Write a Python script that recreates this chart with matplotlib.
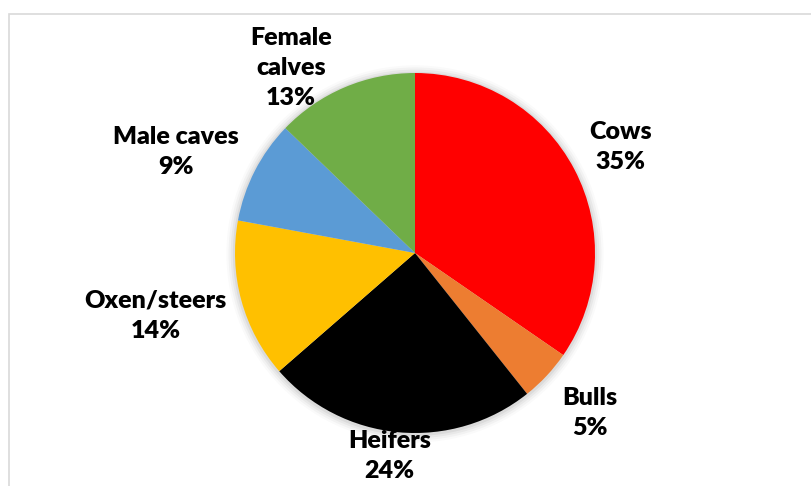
import matplotlib.pyplot as plt
import numpy as np
from matplotlib.patches import Circle, Rectangle

# Cattle herd composition (%)
categories = ["Cows", "Bulls", "Heifers", "Oxen/steers", "Male caves", "Female calves"]
values = np.array([34.6, 4.7, 24.3, 14.3, 9.3, 12.8])
colors = ["#FF0000", "#ED7D31", "#000000", "#FFC000", "#5B9BD5", "#70AD47"]

# label text placed like Excel's "best fit" (x, y in pie-radius units)
label_pos = [(1.14, 0.59), (0.97, -0.89), (-0.14, -1.13),
             (-1.44, -0.35), (-1.33, 0.56), (-0.69, 1.03)]
label_text = ["Cows", "Bulls", "Heifers", "Oxen/steers", "Male caves", "Female\ncalves"]

plt.rcParams["font.family"] = ["Lato", "DejaVu Sans"]

fig = plt.figure(figsize=(8.11, 4.86), dpi=100)
ax = fig.add_axes([0, 0, 1, 1])

# soft shadow round the pie
for i, a in enumerate([0.05, 0.04, 0.03, 0.02]):
    ax.add_patch(Circle((0, -0.005), 1.0 + 0.012 * (i + 1), color="black",
                        alpha=a, lw=0, zorder=0))

ax.pie(values, colors=colors, startangle=90, counterclock=False, radius=1.0,
       wedgeprops=dict(linewidth=0), frame=True)
ax.set_xlim(-415 / 180, (811 - 415) / 180)
ax.set_ylim((253 - 486) / 180, 253 / 180)
ax.axis("off")

for (x, y), name, v in zip(label_pos, label_text, values):
    ax.text(x, y, f"{name}\n{v:.0f}%", ha="center", va="center", fontsize=18,
            fontweight="heavy", linespacing=1.45, color="#000000")

# chart area border (cropped at right and bottom)
fig.patches.append(Rectangle((9 / 811, -0.1), 1.1, 1 - 14 / 486 + 0.1,
                             transform=fig.transFigure, fill=False,
                             edgecolor="#D9D9D9", linewidth=1.2))

fig.savefig("out.png", dpi=100)
